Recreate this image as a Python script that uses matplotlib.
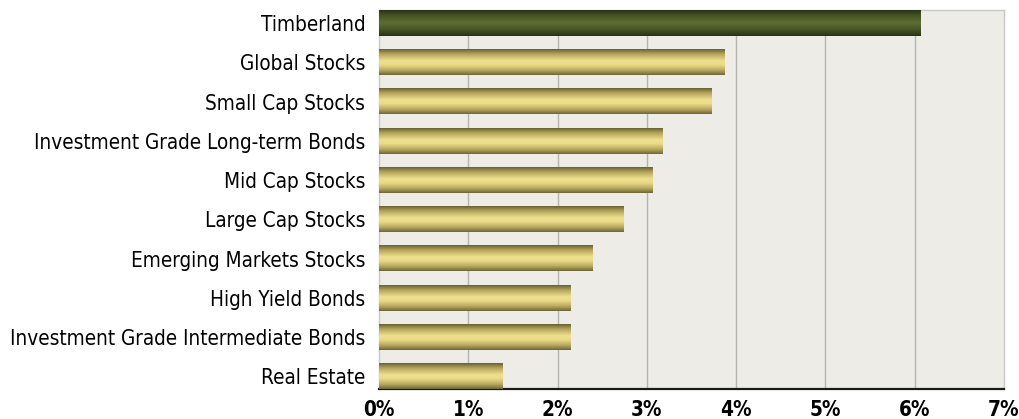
import numpy as np
import matplotlib
matplotlib.use("Agg")
import matplotlib.pyplot as plt
from matplotlib.colors import LinearSegmentedColormap
from matplotlib import font_manager as fm

# asset classes, top to bottom
categories = ["Timberland", "Global Stocks", "Small Cap Stocks",
              "Investment Grade Long-term Bonds", "Mid Cap Stocks",
              "Large Cap Stocks", "Emerging Markets Stocks",
              "High Yield Bonds", "Investment Grade Intermediate Bonds",
              "Real Estate"]
values = [6.07, 3.87, 3.72, 3.18, 3.06, 2.74, 2.39, 2.14, 2.14, 1.38]
xticks = [0, 1, 2, 3, 4, 5, 6, 7]
xticklabels = ["0%", "1%", "2%", "3%", "4%", "5%", "6%", "7%"]


# look for a narrow / condensed face, the original uses a condensed grotesque
def pick_font(bold):
    best = None
    for f in fm.fontManager.ttflist:
        narrow = ('ondensed' in f.name or 'Narrow' in f.name or
                  'ondensed' in f.fname or 'Narrow' in f.fname or
                  str(f.stretch) in ('condensed', 'semi-condensed', '500', '400', '300'))
        if not narrow or f.style != 'normal':
            continue
        w = f.weight if isinstance(f.weight, int) else (700 if 'bold' in str(f.weight) else 400)
        if 'Extra' in f.fname or 'Semi' in f.fname or 'Light' in f.fname or 'Black' in f.fname:
            continue
        if (w >= 600) == bold:
            best = f.fname
            break
    if best:
        return fm.FontProperties(fname=best)
    return fm.FontProperties(family='Liberation Sans', weight='bold' if bold else 'normal')


fp_reg = pick_font(False)
fp_bold = pick_font(True)

gold = LinearSegmentedColormap.from_list("gold", [
    (0.0, "#6a6234"), (0.18, "#b3a35a"), (0.45, "#eee08e"),
    (0.6, "#ebdb88"), (0.82, "#b9a95f"), (1.0, "#6f673a")])
green = LinearSegmentedColormap.from_list("green", [
    (0.0, "#2a3316"), (0.2, "#465424"), (0.5, "#5e6c36"),
    (0.8, "#434f22"), (1.0, "#283114")])

fig = plt.figure(figsize=(10.2, 4.19), dpi=100)
ax = fig.add_axes([0.3716, 0.0716, 0.6127, 0.9034])
ax.set_facecolor("#edece6")

h = 0.65
shade = np.linspace(0, 1, 64).reshape(-1, 1)
for i, v in enumerate(values):
    cmap = green if i == 0 else gold
    ax.imshow(shade, cmap=cmap, aspect='auto', interpolation='bilinear',
              extent=(0, v, i + h / 2, i - h / 2), zorder=3)

for x in xticks[1:-1]:
    ax.axvline(x, color="#b4b4b2", lw=1, zorder=1)

ax.set_xlim(0, 7)
ax.set_ylim(9.325, -0.325)

# size the labels so the longest one spans about 358 px like the original
renderer = fig.canvas.get_renderer()
probe = fig.text(0, 0, max(categories, key=len), fontproperties=fp_reg, fontsize=15)
wpx = probe.get_window_extent(renderer).width
probe.remove()
fs = min(15.5, 15 * 358 / wpx)

ax.set_yticks(range(len(categories)))
ax.set_yticklabels(categories, fontproperties=fp_reg, fontsize=fs)
ax.set_xticks(xticks)
ax.set_xticklabels(xticklabels, fontproperties=fp_bold, fontsize=fs)
ax.tick_params(length=0)
ax.tick_params(axis='y', pad=10)
ax.tick_params(axis='x', pad=8)

for s in ['top', 'right', 'left']:
    ax.spines[s].set_color("#c8c8c8")
    ax.spines[s].set_linewidth(1)
ax.spines['bottom'].set_color("#1a1a1a")
ax.spines['bottom'].set_linewidth(1.6)

fig.savefig("out.png", dpi=100, facecolor="white")
